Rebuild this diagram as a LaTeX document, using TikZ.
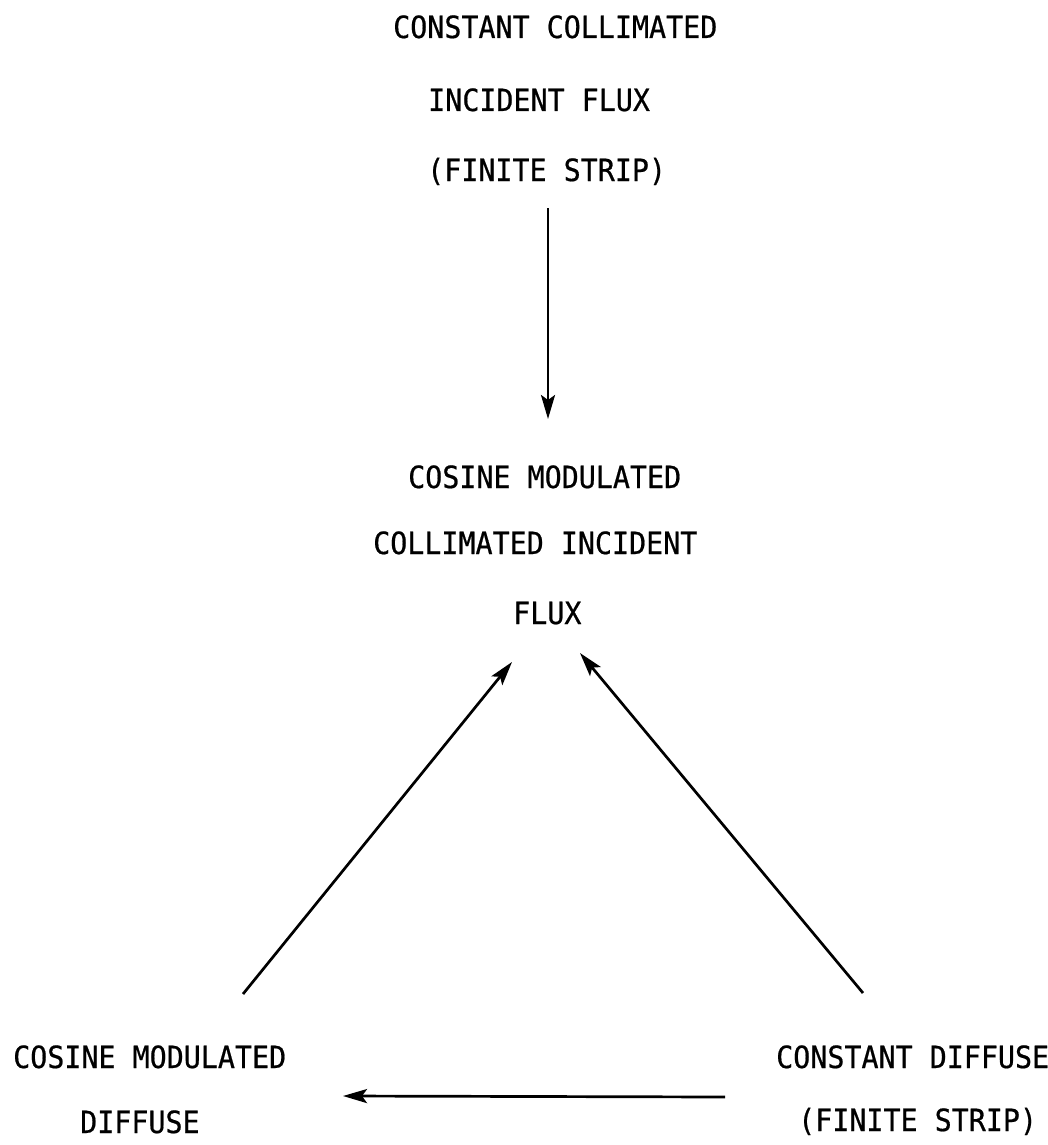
\documentclass[tikz,border=0pt]{standalone}
\usepackage{fontspec}
\newfontfamily\twfont{DejaVu Sans Mono}[FakeStretch=0.926,FakeBold=0.6]
\usetikzlibrary{arrows.meta}
\begin{document}
\begin{tikzpicture}[x=1pt,y=-1pt,
  lbl/.style={anchor=base west,inner sep=0pt,font=\twfont\fontsize{30.6}{34}\selectfont},
  arr/.style={line width=2.7pt,-{Stealth[length=24pt,width=14pt,inset=5pt]}}]
\useasboundingbox[fill=white] (0,0) rectangle (1048,1145);
% top block
\node[lbl] (t1) at (393,38) {CONSTANT COLLIMATED};
\node[lbl] (t2) at (428,111) {INCIDENT FLUX};
\node[lbl] (t3) at (427,181) {(FINITE STRIP)};
% middle block
\node[lbl] (m1) at (408,488) {COSINE MODULATED};
\node[lbl] (m2) at (373,554) {COLLIMATED INCIDENT};
\node[lbl] (m3) at (513,624) {FLUX};
% bottom left block
\node[lbl] (l1) at (13,1068) {COSINE MODULATED};
\node[lbl] (l2) at (80,1133) {DIFFUSE};
% bottom right block
\node[lbl] (r1) at (776,1068) {CONSTANT DIFFUSE};
\node[lbl] (r2) at (798,1131) {(FINITE STRIP)};
% connector end points
\coordinate (vs) at (548,208);
\coordinate (ve) at (548,419);
\coordinate (ls) at (243,994);
\coordinate (le) at (512,662);
\coordinate (rs) at (863,993);
\coordinate (re) at (580,653);
\coordinate (hs) at (725,1097);
\coordinate (he) at (343,1096);
\draw[arr] (vs) -- (ve);
\draw[arr] (ls) -- (le);
\draw[arr] (rs) -- (re);
\draw[arr] (hs) -- (he);
\end{tikzpicture}
\end{document}
